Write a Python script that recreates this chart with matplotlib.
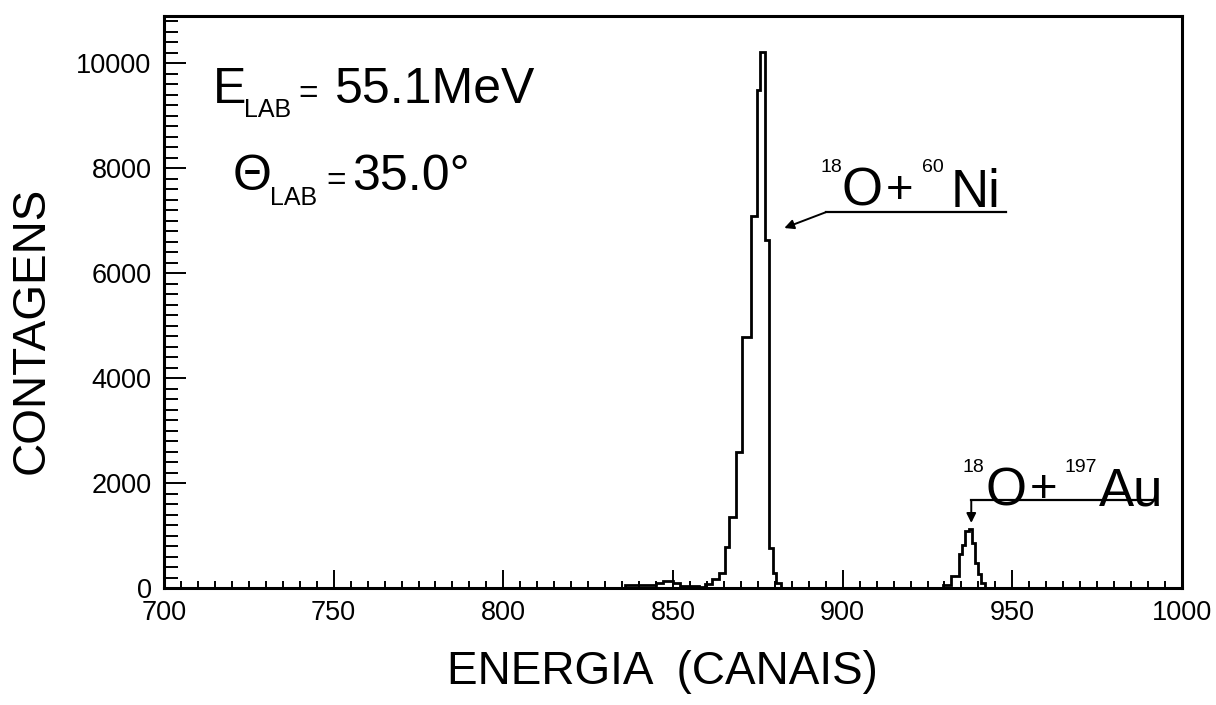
import matplotlib
matplotlib.use("Agg")
import matplotlib.pyplot as plt
from matplotlib.ticker import MultipleLocator

plt.rcParams["font.family"] = ["Liberation Sans", "DejaVu Sans"]

# spectrum: bin edges in channels and counts in each bin
edges = [700, 836, 845, 847, 850, 852, 857.7, 859.5, 861.5, 863.5,
         865.4, 866.6, 868.6, 870.4, 873.1, 874.9, 875.7, 877.2, 878.3, 879.6,
         880.5, 881.7, 929.6, 932, 934.3, 935.2, 936.1, 937.3, 938.2, 939.1,
         939.9, 940.8, 942, 1000]
counts = [0, 60, 100, 140, 100, 40, 20, 80, 170, 280,
          780, 1350, 2590, 4780, 7090, 9490, 10210, 6630, 760, 290,
          100, 0, 60, 220, 650, 820, 1080, 1130, 860, 480,
          260, 90, 0]

# peak labels: underline start/end (channel, counts) and arrow tip
ni_line = [(948.2, 7160), (895.0, 7160)]
ni_tip = (882.8, 6860)
au_line = [(991.7, 1676), (937.9, 1676)]
au_tip = (937.9, 1240)

W, H = 1216, 705
fig = plt.figure(figsize=(W / 100, H / 100), dpi=100)
ax = fig.add_axes([164 / W, 1 - 588 / H, (1182 - 164) / W, (588 - 16) / H])

ax.stairs(counts, edges, color="black", lw=2.0)

ax.set_xlim(700, 1000)
ax.set_ylim(0, 10900)
ax.xaxis.set_major_locator(MultipleLocator(50))
ax.xaxis.set_minor_locator(MultipleLocator(5))
ax.yaxis.set_major_locator(MultipleLocator(2000))
ax.yaxis.set_minor_locator(MultipleLocator(200))
ax.tick_params(axis="x", which="major", direction="in", length=13, width=1.4,
               labelsize=19.5, pad=9)
ax.tick_params(axis="x", which="minor", direction="in", length=5, width=1.4)
ax.tick_params(axis="y", which="major", direction="in", length=16, width=1.4,
               labelsize=19.5, pad=9)
ax.tick_params(axis="y", which="minor", direction="in", length=10, width=1.4)
for s in ax.spines.values():
    s.set_linewidth(2.2)

# arrows from the labels to the peaks
xs, ys = zip(*ni_line)
ax.plot(xs, ys, color="black", lw=1.6)
ax.annotate("", xy=ni_tip, xytext=ni_line[1],
            arrowprops=dict(arrowstyle="-|>", color="black", lw=1.4,
                            mutation_scale=14, shrinkA=0, shrinkB=0))
xs, ys = zip(*au_line)
ax.plot(xs, ys, color="black", lw=1.6)
ax.annotate("", xy=au_tip, xytext=au_line[1],
            arrowprops=dict(arrowstyle="-|>", color="black", lw=1.4,
                            mutation_scale=14, shrinkA=0, shrinkB=0))


def put(px, py, s, size):
    # place text by left edge / baseline given in pixels from the top-left
    fig.text(px / W, 1 - py / H, s, fontsize=size, ha="left", va="baseline")


put(213, 103, "E", 36)
put(244, 117, "LAB", 18)
put(298, 103, "=", 24)
put(335, 103, "55.1MeV", 36)

put(233, 190, "\u0398", 36)
put(270, 205, "LAB", 18)
put(326, 190, "=", 24)
put(352, 190, "35.0\u00b0", 36)

put(820, 172, "18", 14)
put(842, 206, "O", 38)
put(886, 203, "+", 34)
put(922, 172, "60", 14)
put(951, 207, "Ni", 38)

put(963, 472, "18", 14)
put(985, 505, "O", 38)
put(1030, 502, "+", 34)
put(1065, 472, "197", 14)
put(1099, 505, "Au", 38)

fig.text(662 / W, 1 - 672 / H, "ENERGIA  (CANAIS)", fontsize=33,
         ha="center", va="center")
fig.text(32 / W, 1 - 330 / H, "CONTAGENS", fontsize=33, rotation=90,
         ha="center", va="center")

fig.savefig("out.png", dpi=100)
